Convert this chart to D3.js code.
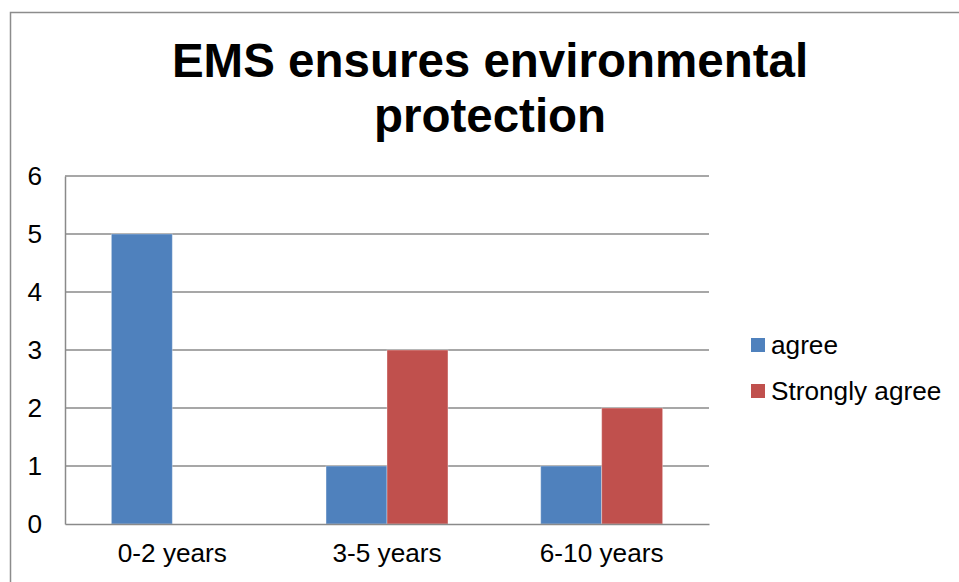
<!DOCTYPE html>
<html>
<head>
<meta charset="utf-8">
<script src="https://cdn.jsdelivr.net/npm/d3@7"></script>
<style>
  body { margin: 0; background: #fff; }
  text { font-family: "Liberation Sans", Arial, sans-serif; }
</style>
</head>
<body>
<div id="chart"></div>
<script>
// chart data
var categories = ["0-2 years", "3-5 years", "6-10 years"];
var seriesNames = ["agree", "Strongly agree"];
var agreeValues = [5, 1, 1];
var stronglyAgreeValues = [0, 3, 2];
var yTicks = [0, 1, 2, 3, 4, 5, 6];
var titleLines = ["EMS ensures environmental", "protection"];

var colors = ["#4F81BD", "#C0504D"];
var width = 959, height = 582;
var plot = { left: 65, right: 709, top: 176, bottom: 524 };

var svg = d3.select("#chart").append("svg")
  .attr("width", width).attr("height", height);

// outer chart border (runs off the right and bottom)
svg.append("rect")
  .attr("x", 10.5).attr("y", 12.5)
  .attr("width", width + 20).attr("height", height + 20)
  .attr("fill", "none").attr("stroke", "#8c8c8c").attr("stroke-width", 1.5);

// title
svg.append("text")
  .attr("x", 490).attr("y", 77)
  .attr("text-anchor", "middle")
  .attr("font-size", "47.5px").attr("font-weight", "bold")
  .selectAll("tspan").data(titleLines).enter().append("tspan")
  .attr("x", 490)
  .attr("dy", function (d, i) { return i === 0 ? 0 : 55; })
  .text(function (d) { return d; });

var y = d3.scaleLinear().domain([0, 6]).range([plot.bottom, plot.top]);

var x0 = d3.scaleBand().domain(categories)
  .range([plot.left, plot.right])
  .paddingInner(0.432).paddingOuter(0.216);

var x1 = d3.scaleBand().domain(seriesNames).range([0, x0.bandwidth()]);

// gridlines
svg.append("g").selectAll("line").data(yTicks.slice(1)).enter().append("line")
  .attr("x1", plot.left).attr("x2", plot.right)
  .attr("y1", function (d) { return y(d); }).attr("y2", function (d) { return y(d); })
  .attr("stroke", "#8a8a8a").attr("stroke-width", 1.5);

// bars
var rows = categories.map(function (c, i) {
  return { cat: c, vals: [agreeValues[i], stronglyAgreeValues[i]] };
});

var groups = svg.append("g").selectAll("g").data(rows).enter().append("g")
  .attr("transform", function (d) { return "translate(" + x0(d.cat) + ",0)"; });

groups.selectAll("rect")
  .data(function (d) { return d.vals.map(function (v, j) { return { name: seriesNames[j], value: v, j: j }; }); })
  .enter().append("rect")
  .filter(function (d) { return d.value > 0; })
  .attr("x", function (d) { return x1(d.name); })
  .attr("y", function (d) { return y(d.value); })
  .attr("width", x1.bandwidth())
  .attr("height", function (d) { return y(0) - y(d.value); })
  .attr("fill", function (d) { return colors[d.j]; })
  .attr("stroke", "rgba(255,255,255,0.35)").attr("stroke-width", 1);

// axes
var yAxis = svg.append("g")
  .attr("transform", "translate(" + plot.left + ",0)")
  .call(d3.axisLeft(y).tickValues(yTicks).tickSize(0).tickPadding(23).tickFormat(d3.format("d")));
yAxis.select(".domain").attr("stroke", "#8a8a8a").attr("stroke-width", 1.5);
yAxis.selectAll("text").attr("font-size", "26.2px").attr("fill", "#000")
  .attr("font-family", "Liberation Sans, Arial, sans-serif");

var xAxis = svg.append("g")
  .attr("transform", "translate(0," + plot.bottom + ")")
  .call(d3.axisBottom(x0).tickSize(0).tickPadding(19));
xAxis.select(".domain").attr("stroke", "#8a8a8a").attr("stroke-width", 1.5);
xAxis.selectAll("text").attr("font-size", "26.2px").attr("fill", "#000")
  .attr("font-family", "Liberation Sans, Arial, sans-serif");

// legend
var legend = svg.append("g").attr("transform", "translate(751,338)");
var items = legend.selectAll("g").data(seriesNames).enter().append("g")
  .attr("transform", function (d, i) { return "translate(0," + i * 46 + ")"; });
items.append("rect").attr("width", 14).attr("height", 14)
  .attr("fill", function (d, i) { return colors[i]; });
items.append("text").attr("x", 20).attr("y", 7).attr("dy", "0.35em")
  .attr("font-size", "26.2px").text(function (d) { return d; });
</script>
</body>
</html>
